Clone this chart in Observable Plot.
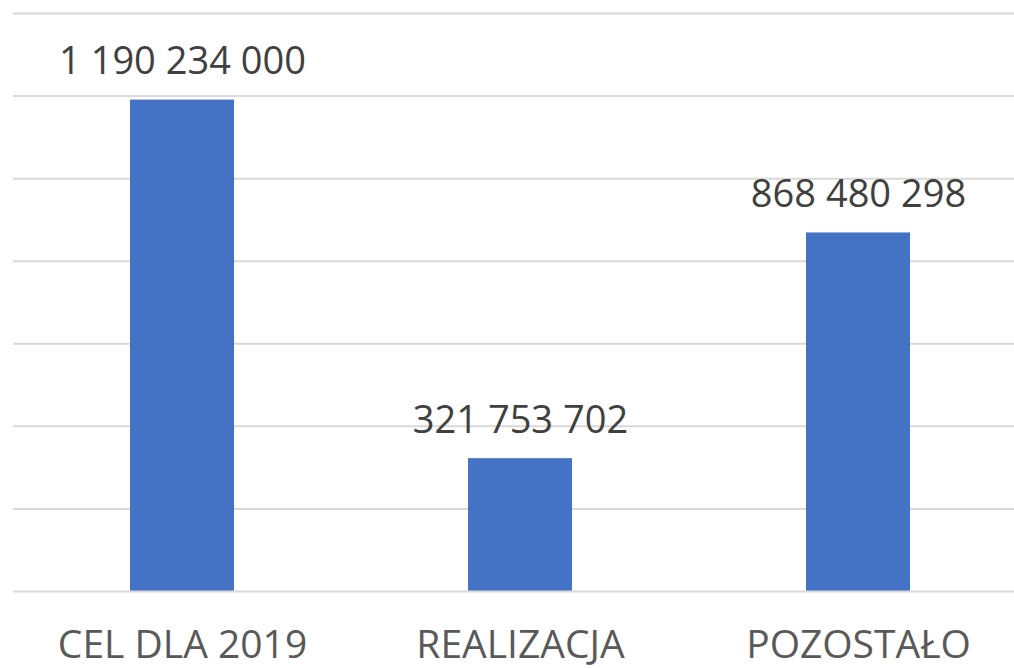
<!DOCTYPE html>
<html>
<head>
<meta charset="utf-8">
<script src="https://cdn.jsdelivr.net/npm/d3@7"></script>
<script src="https://cdn.jsdelivr.net/npm/@observablehq/plot@0.6"></script>
<style>
  html, body { margin: 0; padding: 0; background: #ffffff; }
  #chart svg { display: block; }
</style>
</head>
<body>
<div id="chart"></div>
<script>
const categories = ["CEL DLA 2019", "REALIZACJA", "POZOSTAŁO"];
const values = [1190234000, 321753702, 868480298];
const gridTicks = [0, 200000000, 400000000, 600000000, 800000000, 1000000000, 1200000000, 1400000000];

const data = categories.map((c, i) => ({category: c, value: values[i]}));
const fmt = v => d3.format(",")(v).replace(/,/g, " ");

const chart = Plot.plot({
  width: 1014,
  height: 669,
  marginTop: 13,
  marginBottom: 78,
  marginLeft: 13,
  marginRight: 0,
  style: {fontFamily: "'Open Sans', sans-serif", background: "#ffffff", overflow: "visible"},
  x: {domain: categories, range: [13, 1027], paddingInner: 0.692, paddingOuter: 0.346, label: null},
  y: {domain: [0, 1400000000], label: null},
  marks: [
    Plot.ruleY(gridTicks.slice(1), {stroke: "#d9d9d9", strokeWidth: 2}),
    Plot.barY(data, {x: "category", y: "value", fill: "#4472C4"}),
    Plot.ruleY([0], {stroke: "#d9d9d9", strokeWidth: 2}),
    Plot.text(data, {x: "category", y: "value", text: d => fmt(d.value), lineAnchor: "bottom", dy: -26, fontSize: 38, fill: "#404040"}),
    Plot.axisX({tickSize: 0, tickPadding: 39, fontSize: 39, fill: "#595959", label: null}),
    Plot.axisY({ticks: [], label: null})
  ]
});
document.getElementById("chart").appendChild(chart);
</script>
</body>
</html>
